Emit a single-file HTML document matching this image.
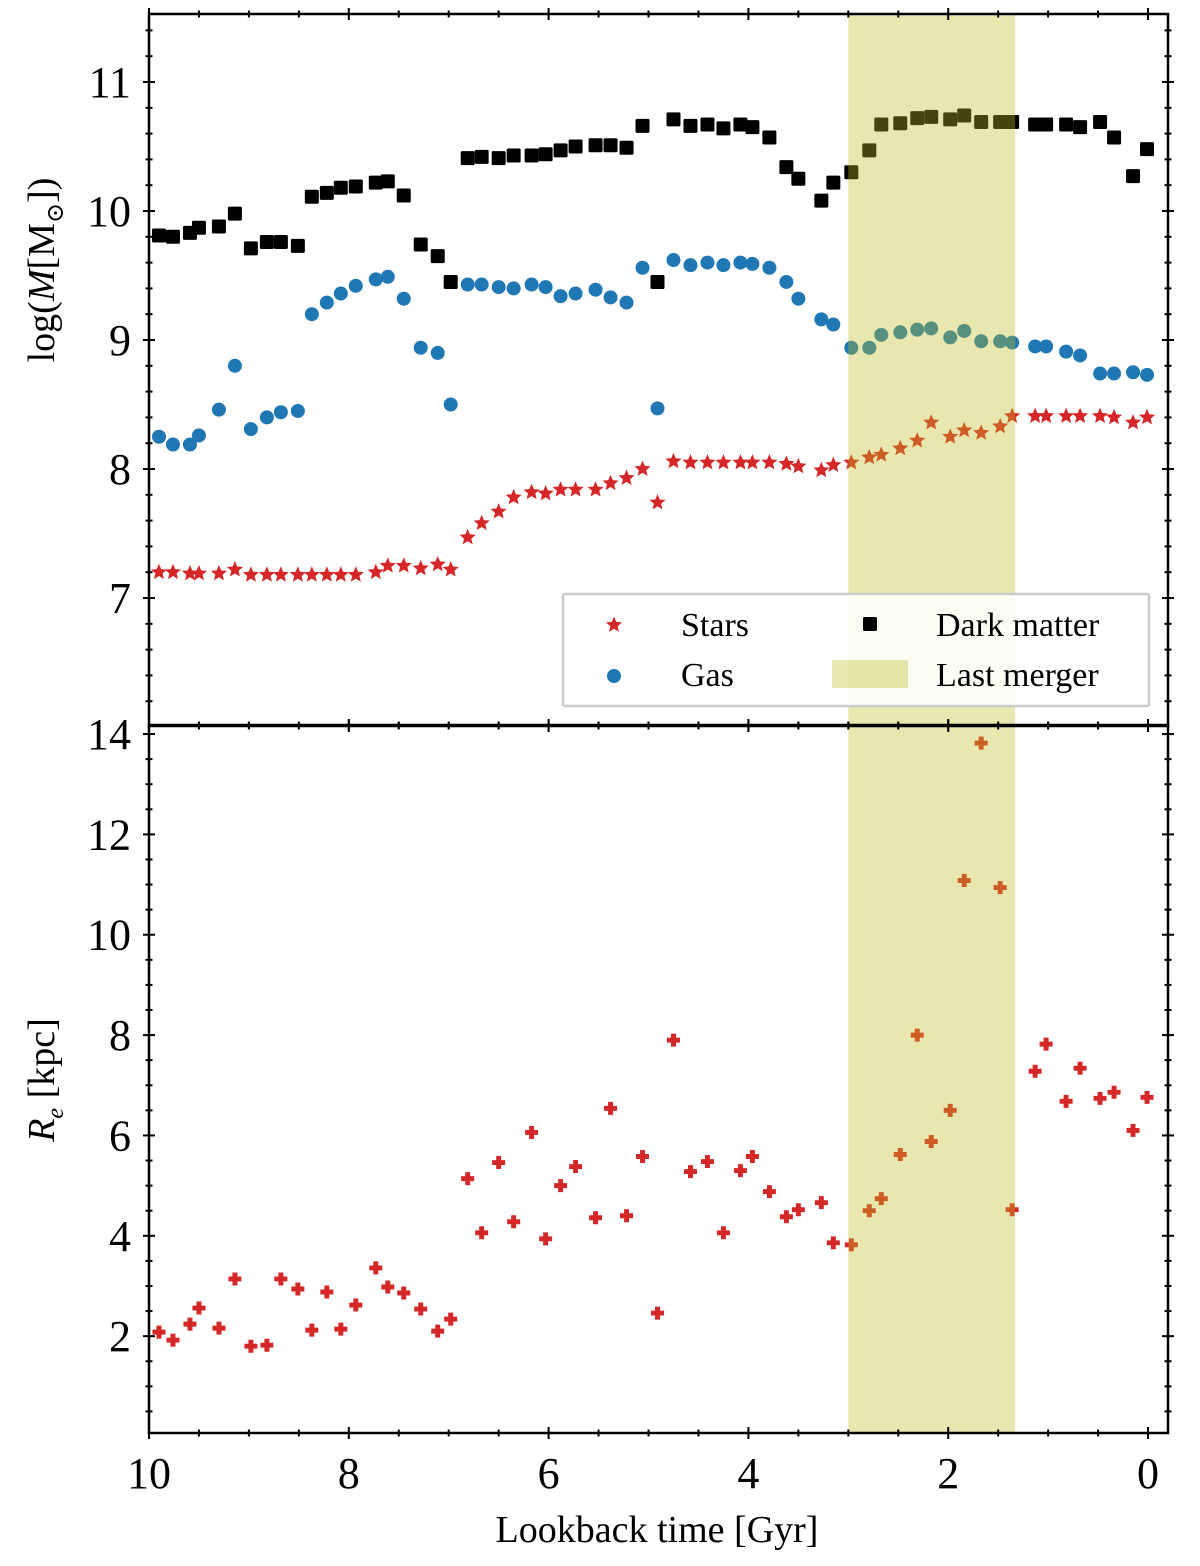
<!DOCTYPE html>
<html><head><meta charset="utf-8"><style>
html,body{margin:0;padding:0;background:#fff;}
svg{display:block;font-family:"Liberation Serif","DejaVu Serif",serif;}
</style></head><body>
<svg id="chart" width="1200" height="1566" viewBox="0 0 1200 1566" xmlns="http://www.w3.org/2000/svg"></svg>
<script>
const times=[9.90,9.76,9.59,9.50,9.30,9.14,8.98,8.82,8.68,8.51,8.37,8.22,8.08,7.93,7.73,7.61,7.45,7.28,7.11,6.98,6.81,6.67,6.50,6.35,6.17,6.03,5.88,5.73,5.53,5.38,5.22,5.06,4.91,4.75,4.58,4.41,4.25,4.08,3.96,3.79,3.62,3.50,3.27,3.15,2.97,2.79,2.67,2.48,2.31,2.17,1.98,1.84,1.67,1.48,1.36,1.13,1.02,0.82,0.68,0.48,0.34,0.15,0.01];
const darkMatter=[9.81,9.80,9.83,9.87,9.88,9.98,9.71,9.76,9.76,9.73,10.11,10.14,10.18,10.19,10.22,10.23,10.12,9.74,9.65,9.45,10.41,10.42,10.41,10.43,10.43,10.44,10.47,10.50,10.51,10.51,10.49,10.66,9.45,10.71,10.66,10.67,10.64,10.67,10.65,10.57,10.34,10.25,10.08,10.22,10.30,10.47,10.67,10.68,10.72,10.73,10.71,10.74,10.69,10.69,10.69,10.67,10.67,10.67,10.65,10.69,10.57,10.27,10.48];
const gas=[8.25,8.19,8.19,8.26,8.46,8.80,8.31,8.40,8.44,8.45,9.20,9.29,9.36,9.42,9.47,9.49,9.32,8.94,8.90,8.50,9.43,9.43,9.41,9.40,9.43,9.41,9.34,9.36,9.39,9.33,9.29,9.56,8.47,9.62,9.58,9.60,9.58,9.60,9.59,9.56,9.45,9.32,9.16,9.12,8.94,8.94,9.04,9.06,9.08,9.09,9.02,9.07,8.99,8.99,8.98,8.95,8.95,8.91,8.88,8.74,8.74,8.75,8.73];
const stars=[7.20,7.20,7.19,7.19,7.19,7.22,7.18,7.18,7.18,7.18,7.18,7.18,7.18,7.18,7.20,7.25,7.25,7.23,7.26,7.22,7.47,7.58,7.67,7.78,7.82,7.81,7.84,7.84,7.84,7.89,7.93,8.00,7.74,8.06,8.05,8.05,8.05,8.05,8.05,8.05,8.04,8.02,7.99,8.03,8.05,8.09,8.11,8.16,8.22,8.36,8.25,8.30,8.28,8.33,8.41,8.41,8.41,8.41,8.41,8.41,8.40,8.36,8.40];
const radius=[2.08,1.92,2.24,2.56,2.16,3.14,1.80,1.82,3.14,2.94,2.12,2.88,2.14,2.62,3.36,2.98,2.86,2.54,2.10,2.34,5.14,4.06,5.46,4.28,6.06,3.94,5.00,5.38,4.36,6.54,4.40,5.58,2.46,7.90,5.28,5.48,4.06,5.30,5.58,4.88,4.38,4.52,4.66,3.86,3.82,4.50,4.74,5.62,8.00,5.88,6.50,11.08,13.82,10.94,4.52,7.28,7.82,6.68,7.34,6.74,6.86,6.10,6.76];
const mergerSpan=[3.0,1.33];
const xTicks=[10,8,6,4,2,0];
const topYTicks=[7,8,9,10,11];
const botYTicks=[2,4,6,8,10,12,14];

const NS="http://www.w3.org/2000/svg";
const svg=document.getElementById('chart');
function el(tag,attrs,parent){const e=document.createElementNS(NS,tag);for(const k in attrs)e.setAttribute(k,attrs[k]);(parent||svg).appendChild(e);return e;}
const L=149,R=1168;
const xS=t=>L+(10-t)/(10.2)*(R-L);
const T1=14,B1=726,ymin1=6.008,ymax1=11.527;
const y1=v=>B1-(v-ymin1)/(ymax1-ymin1)*(B1-T1);
const T2=725,B2=1433,ymin2=0.07,ymax2=14.18;
const y2=v=>B2-(v-ymin2)/(ymax2-ymin2)*(B2-T2);

function starPath(cx,cy,r){let d='';for(let i=0;i<10;i++){const a=-Math.PI/2+i*Math.PI/5;const rr=i%2?r*0.45:r;d+=(i?'L':'M')+(cx+rr*Math.cos(a)).toFixed(1)+','+(cy+rr*Math.sin(a)).toFixed(1);}return d+'Z';}
function plusPath(cx,cy,r){const w=r*0.38;return `M${cx-w},${cy-r}H${cx+w}V${cy-w}H${cx+r}V${cy+w}H${cx+w}V${cy+r}H${cx-w}V${cy+w}H${cx-r}V${cy-w}H${cx-w}Z`;}

const gTop=el('g',{});


times.forEach((t,i)=>{const s=el('rect',{x:xS(t)-7,y:y1(darkMatter[i])-7,width:14,height:14,rx:1.5,fill:'#000'},gTop);

});
times.forEach((t,i)=>{const c=el('circle',{cx:xS(t),cy:y1(gas[i]),r:7,fill:'#1f77b4'},gTop);

});
times.forEach((t,i)=>{const p=el('path',{d:starPath(xS(t),y1(stars[i]),8.5),fill:'#d62728'},gTop);

});
const band1=el('rect',{x:xS(mergerSpan[0]),y:T1,width:xS(mergerSpan[1])-xS(mergerSpan[0]),height:B1-T1,fill:'rgba(188,189,34,0.36)'});



times.forEach((t,i)=>{const p=el('path',{d:plusPath(xS(t),y2(radius[i]),6.5),fill:'#d62728'});

});
const band2=el('rect',{x:xS(mergerSpan[0]),y:T2,width:xS(mergerSpan[1])-xS(mergerSpan[0]),height:B2-T2,fill:'rgba(188,189,34,0.36)'});



function frame(T,B,yf,ymin,ymax,majors,minorStep,name){
  const f=el('rect',{x:L,y:T,width:R-L,height:B-T,fill:'none',stroke:'#000','stroke-width':2.5});
  
  
  for(let v=0;v<=10.01;v+=0.5){const x=xS(v);const maj=Math.abs(v/2-Math.round(v/2))<1e-6;const len=maj?6:3.5;
    el('line',{x1:x,x2:x,y1:T-len,y2:T+len,stroke:'#000','stroke-width':2});
    el('line',{x1:x,x2:x,y1:B-len,y2:B+len,stroke:'#000','stroke-width':2});}
  for(let v=Math.ceil(ymin/minorStep)*minorStep;v<=ymax;v+=minorStep){const y=yf(v);const maj=majors.some(m=>Math.abs(m-v)<1e-6);const len=maj?6:3.5;
    el('line',{x1:L-len,x2:L+len,y1:y,y2:y,stroke:'#000','stroke-width':2});
    el('line',{x1:R-len,x2:R+len,y1:y,y2:y,stroke:'#000','stroke-width':2});}
  majors.forEach(m=>{const tx=el('text',{x:131,y:yf(m)+15,'text-anchor':'end','font-size':44});tx.textContent=m;
    
    });
}
frame(T1,B1,y1,ymin1,ymax1,topYTicks,0.2,'mass-panel');
frame(T2,B2,y2,ymin2,ymax2,botYTicks,0.5,'radius-panel');
xTicks.forEach(v=>{const tx=el('text',{x:xS(v),y:1488,'text-anchor':'middle','font-size':44});tx.textContent=v;
  
  });

const lg=el('g',{});


el('rect',{x:563,y:594,width:586,height:112,fill:'rgba(255,255,255,0.85)',stroke:'#cccccc','stroke-width':2.5,rx:2},lg);
el('path',{d:starPath(614,625,8.5),fill:'#d62728'},lg);
el('circle',{cx:614,cy:676,r:7,fill:'#1f77b4'},lg);
el('rect',{x:863,y:617,width:14,height:14,rx:1.5,fill:'#000'},lg);
el('rect',{x:832,y:660,width:76,height:28,fill:'rgba(188,189,34,0.36)'},lg);
[['Stars',681,636],['Gas',681,686],['Dark matter',936,636],['Last merger',936,686]].forEach(a=>{
  const t=el('text',{x:a[1],y:a[2],'font-size':34},lg);t.textContent=a[0];
  
  });
</script>
<div style="position:absolute;left:0;top:0;width:1200px;height:1566px;pointer-events:none;font-family:'Liberation Serif','DejaVu Serif',serif;">
  <div style="position:absolute;left:45px;top:270px;transform:translate(-50%,-50%) rotate(-90deg);font-size:38px;white-space:nowrap;">log(<i>M</i>[M<sub style="font-size:24px">⊙</sub>])</div>
  <div style="position:absolute;left:45px;top:1080px;transform:translate(-50%,-50%) rotate(-90deg);font-size:38px;white-space:nowrap;"><i>R<sub style="font-size:24px">e</sub></i> [kpc]</div>
  <div style="position:absolute;left:657px;top:1530px;transform:translate(-50%,-50%);font-size:38px;white-space:nowrap;">Lookback time [Gyr]</div>
</div>
</body></html>
